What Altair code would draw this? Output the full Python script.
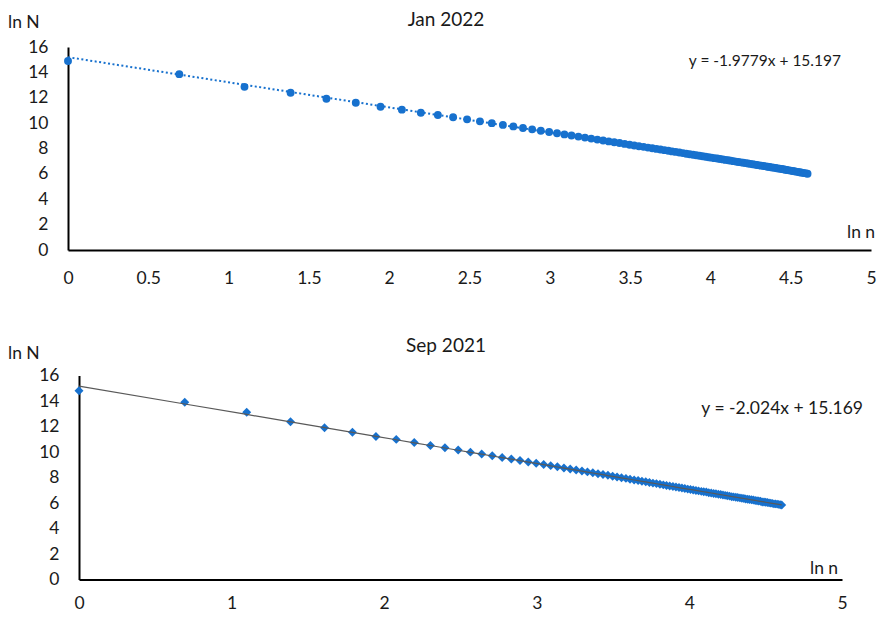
import altair as alt
import pandas as pd

# ---------------- data ----------------
ln_n = [0.000, 0.693, 1.099, 1.386, 1.609, 1.792, 1.946, 2.079, 2.197, 2.303,
        2.398, 2.485, 2.565, 2.639, 2.708, 2.773, 2.833, 2.890, 2.944, 2.996,
        3.045, 3.091, 3.135, 3.178, 3.219, 3.258, 3.296, 3.332, 3.367, 3.401,
        3.434, 3.466, 3.497, 3.526, 3.555, 3.584, 3.611, 3.638, 3.664, 3.689,
        3.714, 3.738, 3.761, 3.784, 3.807, 3.829, 3.850, 3.871, 3.892, 3.912,
        3.932, 3.951, 3.970, 3.989, 4.007, 4.025, 4.043, 4.060, 4.078, 4.094,
        4.111, 4.127, 4.143, 4.159, 4.174, 4.190, 4.205, 4.220, 4.234, 4.248,
        4.263, 4.277, 4.290, 4.304, 4.317, 4.331, 4.344, 4.357, 4.369, 4.382,
        4.394, 4.407, 4.419, 4.431, 4.443, 4.454, 4.466, 4.477, 4.489, 4.500,
        4.511, 4.522, 4.533, 4.543, 4.554, 4.564, 4.575, 4.585, 4.595, 4.605]

ln_N_jan2022 = [14.90, 13.86, 12.86, 12.39, 11.92, 11.61, 11.29, 11.06, 10.82, 10.64,
                10.46, 10.30, 10.14, 10.00, 9.86, 9.74, 9.62, 9.51, 9.40, 9.30,
                9.20, 9.11, 9.02, 8.94, 8.86, 8.78, 8.70, 8.63, 8.56, 8.49,
                8.43, 8.36, 8.30, 8.24, 8.18, 8.13, 8.07, 8.02, 7.97, 7.92,
                7.87, 7.82, 7.77, 7.73, 7.68, 7.64, 7.59, 7.55, 7.51, 7.47,
                7.43, 7.39, 7.35, 7.31, 7.28, 7.24, 7.21, 7.17, 7.14, 7.10,
                7.07, 7.04, 7.00, 6.97, 6.94, 6.91, 6.88, 6.85, 6.82, 6.79,
                6.76, 6.73, 6.70, 6.67, 6.65, 6.62, 6.59, 6.56, 6.54, 6.51,
                6.49, 6.46, 6.43, 6.41, 6.38, 6.36, 6.33, 6.31, 6.28, 6.26,
                6.23, 6.21, 6.18, 6.16, 6.13, 6.11, 6.08, 6.06, 6.04, 6.01]

ln_N_sep2021 = [14.80, 13.90, 13.12, 12.37, 11.90, 11.55, 11.22, 10.99, 10.74, 10.51,
                10.33, 10.15, 9.99, 9.84, 9.70, 9.57, 9.45, 9.33, 9.22, 9.12,
                9.02, 8.93, 8.84, 8.75, 8.67, 8.59, 8.51, 8.44, 8.37, 8.30,
                8.23, 8.17, 8.10, 8.04, 7.98, 7.93, 7.87, 7.81, 7.76, 7.71,
                7.66, 7.61, 7.56, 7.52, 7.47, 7.42, 7.38, 7.34, 7.29, 7.25,
                7.21, 7.17, 7.13, 7.09, 7.06, 7.02, 6.98, 6.95, 6.91, 6.88,
                6.87, 6.81, 6.78, 6.75, 6.72, 6.69, 6.66, 6.63, 6.60, 6.57,
                6.54, 6.49, 6.48, 6.45, 6.43, 6.40, 6.37, 6.35, 6.32, 6.30,
                6.27, 6.25, 6.24, 6.20, 6.17, 6.15, 6.13, 6.08, 6.08, 6.06,
                6.04, 6.01, 5.99, 5.97, 5.93, 5.93, 5.91, 5.89, 5.87, 5.85]

titles = ["Jan 2022", "Sep 2021"]
slopes = [-1.9779, -2.024]
intercepts = [15.197, 15.169]
equations = ["y = -1.9779x + 15.197", "y = -2.024x + 15.169"]
y_ticks = [0, 2, 4, 6, 8, 10, 12, 14, 16]
x_ticks_jan = [0, 0.5, 1, 1.5, 2, 2.5, 3, 3.5, 4, 4.5, 5]
x_ticks_sep = [0, 1, 2, 3, 4, 5]
y_label = "ln N"
x_label = "ln n"

# ---------------- styling ----------------
FONT = "Lato"
BLUE = "#1771CE"
INK = "#1a1a1a"


def make_axis(values, pad, offset=0):
    return alt.Axis(values=values, format="~g", title=None, grid=False,
                    ticks=False, tickSize=0, domainColor="#000000", domainWidth=2,
                    labelFont=FONT, labelFontSize=17.5, labelColor=INK,
                    labelPadding=pad, labelFlush=False, labelOverlap=False,
                    offset=offset)


def text_layer(txt, x, y, size, align="left"):
    return alt.Chart(pd.DataFrame({"t": [txt]})).mark_text(
        font=FONT, fontSize=size, color=INK, align=align, baseline="middle"
    ).encode(x=alt.value(x), y=alt.value(y), text="t:N")


def panel(values, idx, xticks, w, h, shape, size, line_kw, xpad, pos, inset=0):
    df = pd.DataFrame({"ln_n": ln_n, "ln_N": values})
    xs = alt.Scale(domain=[0, 5], nice=False, zero=False, range=[inset, w])
    ys = alt.Scale(domain=[0, 16], nice=False)
    xa = make_axis(xticks, xpad)
    ya = make_axis(y_ticks, 20, -inset)
    base = alt.Chart(df)
    pts = base.mark_point(filled=True, shape=shape, size=size, color=BLUE,
                          opacity=1, strokeWidth=0).encode(
        x=alt.X("ln_n:Q", scale=xs, axis=xa),
        y=alt.Y("ln_N:Q", scale=ys, axis=ya))
    trend = base.transform_calculate(
        fit=f"{intercepts[idx]} + ({slopes[idx]}) * datum.ln_n"
    ).mark_line(**line_kw).encode(
        x=alt.X("ln_n:Q", scale=xs, axis=xa),
        y=alt.Y("fit:Q", scale=ys, axis=ya))
    layers = [
        pts, trend,
        text_layer(titles[idx], pos["title"][0], pos["title"][1], 19, "center"),
        text_layer(y_label, pos["ylab"][0], pos["ylab"][1], 17.5, "left"),
        text_layer(x_label, pos["xlab"][0], pos["xlab"][1], 17.5, "left"),
        text_layer(equations[idx], pos["eq"][0], pos["eq"][1], pos["eqsize"], "right"),
    ]
    return alt.layer(*layers).properties(width=w, height=h)


top = panel(ln_N_jan2022, 0, x_ticks_jan, 803, 203, "circle", 62,
            dict(color=BLUE, strokeWidth=2, strokeDash=[2, 2.5]), 19,
            {"title": (378, -27.5), "ylab": (-60, -24), "xlab": (779, 186),
             "eq": (773, 14), "eqsize": 15.5})

bottom = panel(ln_N_sep2021, 1, x_ticks_sep, 774, 204, "diamond", 80,
               dict(color="#595959", strokeWidth=1.2), 15,
               {"title": (378, -29.5), "ylab": (-60, -22), "xlab": (742, 193),
                "eq": (795, 33), "eqsize": 17.5}, inset=11)

chart = alt.vconcat(top, bottom, spacing=49.5).properties(
    padding={"left": 0, "top": 2, "right": 0, "bottom": 0}
).configure_view(stroke=None)

chart.save("out.html", embed_options={"renderer": "svg", "actions": False})
